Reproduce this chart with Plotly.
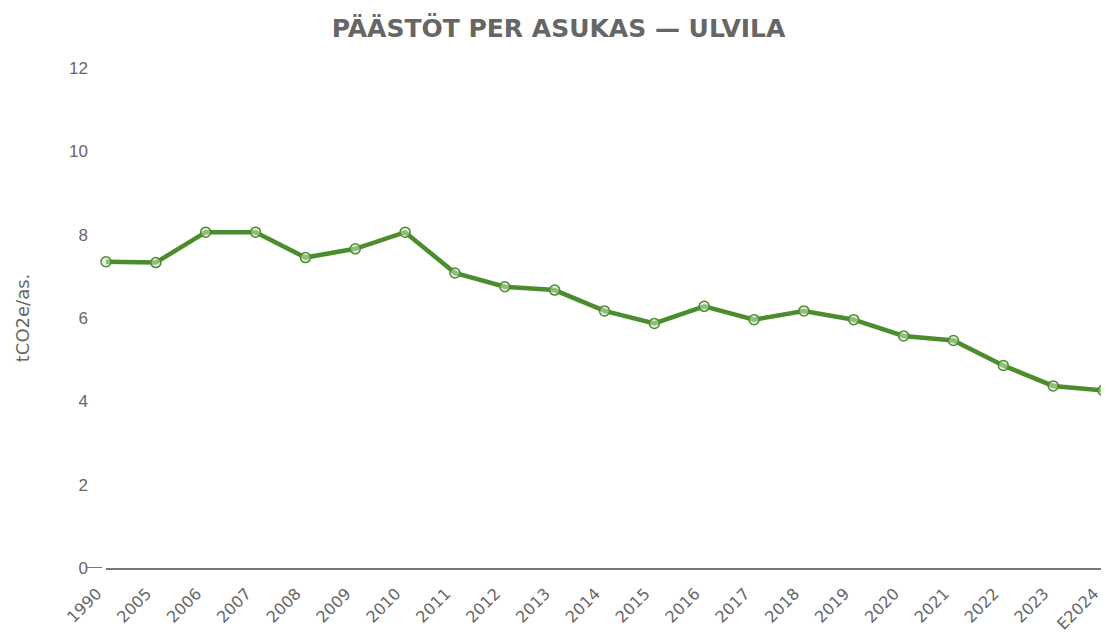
import plotly.graph_objects as go

years = ["1990", "2005", "2006", "2007", "2008", "2009", "2010", "2011", "2012", "2013",
         "2014", "2015", "2016", "2017", "2018", "2019", "2020", "2021", "2022", "2023", "E2024"]
values = [7.35, 7.33, 8.06, 8.06, 7.45, 7.66, 8.06, 7.08, 6.75, 6.67,
          6.17, 5.87, 6.28, 5.96, 6.17, 5.96, 5.57, 5.46, 4.86, 4.37, 4.26]
y_ticks = [0, 2, 4, 6, 8, 10, 12]

green = "#4b8c2c"
grey = "#666666"
font_main = "Liberation Sans, Arial, sans-serif"

# the page body has an 8px margin, so the figure is sized/offset to compensate
fig = go.Figure()
fig.add_trace(go.Scatter(
    x=years, y=values, mode="lines+markers",
    line=dict(color=green, width=4.5),
    marker=dict(symbol="circle", size=10, color="rgba(205,228,195,0.55)",
                line=dict(color=green, width=1.5)),
    cliponaxis=False, hoverinfo="x+y",
))

fig.update_layout(
    width=1101, height=630,
    paper_bgcolor="white", plot_bgcolor="white",
    margin=dict(l=98, r=6, t=60, b=70),
    showlegend=False,
    title=dict(text="<b>PÄÄSTÖT PER ASUKAS — ULVILA</b>", x=0.5, xanchor="center",
               y=1 - 20 / 630, yanchor="middle",
               font=dict(family="DejaVu Sans, sans-serif", size=25, color="#666666")),
    font=dict(family=font_main, color=grey),
)
fig.update_xaxes(
    type="category", range=[0, len(years) - 1], automargin=False,
    showgrid=False, showline=True, linecolor="#777777", linewidth=2,
    tickangle=-45, tickfont=dict(size=16, family="DejaVu Sans, sans-serif", color=grey),
    ticks="", ticklabelstandoff=8, ticklabelshift=-9,
)
fig.update_yaxes(
    range=[0, 12], tickvals=y_ticks, showgrid=False, zeroline=False, showline=False,
    automargin=False,
    tickfont=dict(size=17, color=grey), ticks="", ticklabelstandoff=17,
    title=dict(text="tCO2e/as.", font=dict(size=18, family="DejaVu Sans, sans-serif", color=grey), standoff=34),
)
fig.add_shape(type="line", xref="paper", yref="y", x0=-0.019, x1=-0.004, y0=0, y1=0,
              line=dict(color="#777777", width=2))
fig.write_html("out.html")
